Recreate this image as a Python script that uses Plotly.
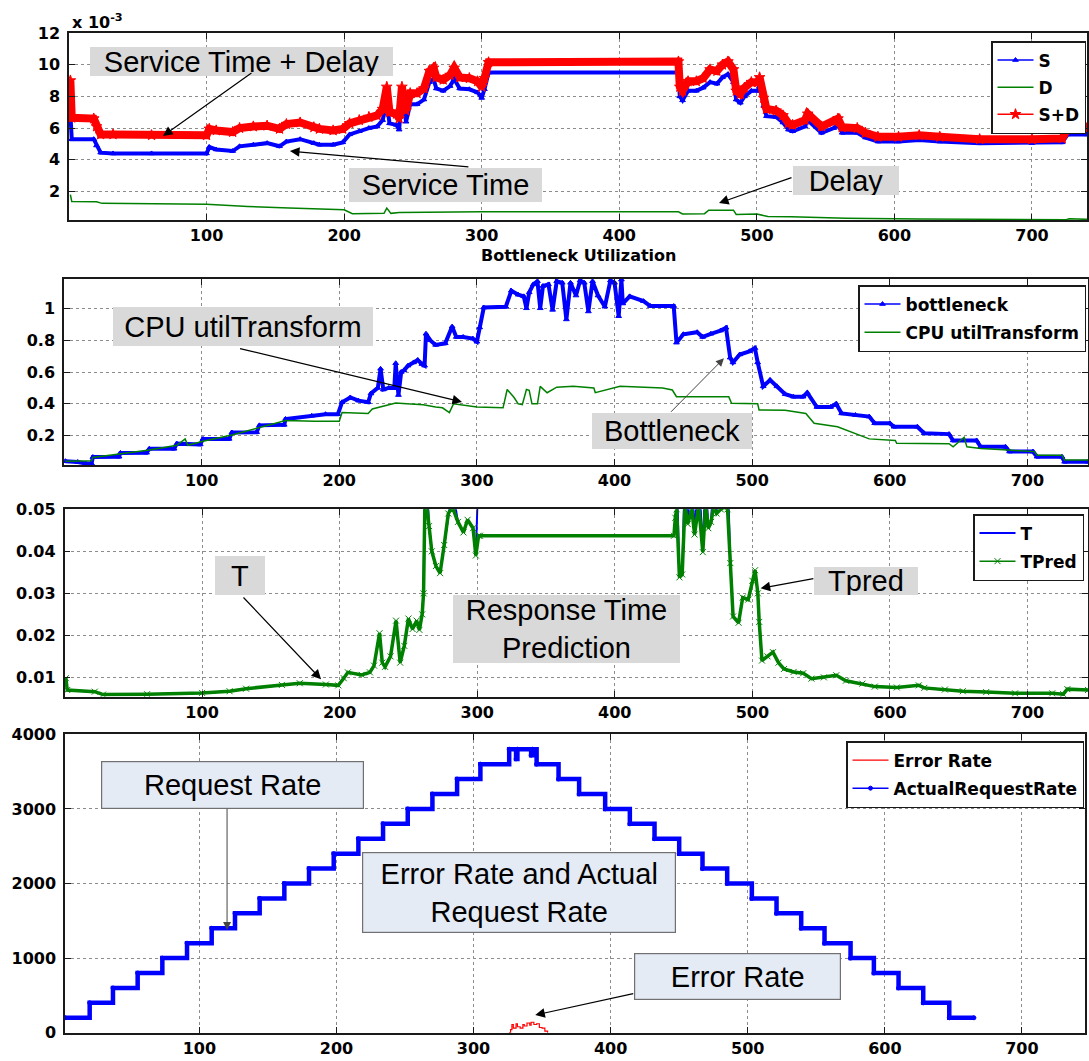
import plotly.graph_objects as go

W, H = 1089, 1061

# ---------------- data ----------------
# Panel 1: service time S, delay D and S+D (units of 1e-3)
S_X = [1, 2, 18, 20, 23, 32, 60, 100, 102, 107,
       119, 124, 134, 144, 153, 158, 168, 178, 182, 192,
       199, 204, 211, 218, 224, 228, 231, 233, 238, 240,
       242, 245, 248, 253, 258, 262, 265, 267, 272, 277,
       280, 284, 291, 297, 300, 302, 305, 443, 444, 446,
       450, 456, 461, 466, 471, 475, 479, 483, 485, 488,
       491, 496, 501, 502, 505, 507, 514, 519, 523, 526,
       535, 537, 547, 556, 559, 562, 573, 579, 588, 603,
       618, 633, 662, 700, 722, 726, 740]
S_Y = [6.9, 5.3, 5.3, 4.9, 4.45, 4.4, 4.4, 4.4, 4.8, 4.65,
       4.55, 4.85, 4.95, 5.05, 4.85, 5.15, 5.3, 5.05, 4.95, 4.95,
       5.1, 5.6, 5.8, 6.0, 6.1, 6.5, 7.6, 6.3, 6.2, 5.9,
       8.2, 6.4, 7.5, 7.5, 7.8, 8.9, 9.1, 8.5, 8.35, 8.65,
       9.1, 8.5, 8.45, 8.25, 7.9, 8.45, 9.5, 9.5, 8.0, 7.75,
       8.35, 8.35, 8.55, 8.9, 8.8, 9.2, 9.4, 8.9, 7.8, 7.6,
       8.0, 8.35, 8.35, 8.65, 7.4, 6.75, 6.7, 6.35, 5.9, 5.8,
       6.1, 6.5, 5.7, 6.0, 6.2, 5.7, 5.7, 5.4, 5.15, 5.15,
       5.25, 5.15, 5.05, 5.05, 5.1, 5.6, 5.6]
SD_Y = [9.0, 6.65, 6.6, 6.1, 5.6, 5.6, 5.55, 5.55, 5.95, 5.85,
        5.75, 6.0, 6.1, 6.15, 5.95, 6.25, 6.35, 6.05, 5.95, 5.85,
        5.95, 6.3, 6.5, 6.7, 6.8, 7.2, 8.6, 7.0, 6.9, 6.6,
        8.6, 7.1, 8.2, 8.2, 8.5, 9.6, 9.8, 9.2, 9.05, 9.35,
        9.8, 9.2, 9.15, 8.95, 8.6, 9.15, 10.15, 10.2, 8.6, 8.35,
        8.95, 8.95, 9.15, 9.7, 9.6, 10.0, 10.2, 9.7, 8.35, 8.15,
        8.55, 8.9, 8.9, 9.2, 7.9, 7.2, 7.1, 6.8, 6.3, 6.2,
        6.5, 6.9, 6.1, 6.4, 6.6, 6.05, 6.0, 5.7, 5.45, 5.45,
        5.55, 5.45, 5.3, 5.3, 5.35, 6.0, 6.0]
D_X = [1, 2, 20, 24, 100, 130, 160, 200, 206, 229, 231, 234, 240, 300, 443, 446,
       462, 465, 483, 485, 500, 505, 508, 525, 540, 565, 618, 660, 725, 727, 740]
D_Y = [1.8, 1.37, 1.35, 1.25, 1.2, 1.05, 0.95, 0.84, 0.6, 0.62, 0.95, 0.62, 0.68, 0.72, 0.72, 0.58,
       0.6, 0.82, 0.82, 0.55, 0.58, 0.5, 0.42, 0.4, 0.37, 0.31, 0.27, 0.25, 0.22, 0.28, 0.24]

# Panel 2: bottleneck utilization and transformed CPU utilization
B_X = [1, 10, 16, 20, 21, 40, 41, 60, 62, 80,
       82, 99, 101, 120, 122, 140, 142, 160, 161, 180,
       190, 199, 202, 208, 214, 221, 223, 228, 230, 232,
       236, 240, 241, 243, 245, 247, 250, 254, 257, 260,
       262, 263, 266, 270, 277, 282, 285, 290, 297, 300,
       302, 305, 321, 325, 330, 334, 336, 338, 341, 344,
       346, 348, 352, 355, 358, 362, 365, 368, 372, 375,
       378, 381, 384, 388, 393, 397, 400, 403, 405, 406,
       411, 421, 426, 443, 445, 450, 460, 464, 470, 477,
       481, 484, 486, 491, 498, 502, 504, 508, 513, 518,
       524, 530, 537, 540, 547, 557, 561, 565, 575, 585,
       589, 600, 603, 620, 625, 643, 646, 663, 666, 684,
       687, 704, 707, 725, 727, 744]
B_Y = [0.040, 0.035, 0.025, 0.025, 0.066, 0.068, 0.092, 0.093, 0.118, 0.118,
       0.150, 0.145, 0.180, 0.180, 0.220, 0.222, 0.265, 0.268, 0.305, 0.325,
       0.335, 0.335, 0.410, 0.440, 0.420, 0.410, 0.465, 0.500, 0.620, 0.490,
       0.500, 0.500, 0.655, 0.455, 0.600, 0.610, 0.640, 0.660, 0.675, 0.650,
       0.640, 0.840, 0.800, 0.770, 0.780, 0.885, 0.820, 0.820, 0.810, 0.790,
       0.880, 1.005, 1.010, 1.110, 1.085, 1.075, 1.000, 1.100, 1.150, 1.170,
       1.000, 1.140, 1.150, 0.990, 1.170, 1.160, 0.930, 1.160, 1.080, 1.175,
       1.160, 0.980, 1.170, 1.080, 1.010, 1.175, 1.160, 0.950, 1.180, 1.030,
       1.075, 1.045, 1.014, 1.014, 0.784, 0.837, 0.850, 0.820, 0.840, 0.860,
       0.878, 0.690, 0.660, 0.710, 0.730, 0.750, 0.660, 0.510, 0.550, 0.510,
       0.460, 0.445, 0.445, 0.470, 0.380, 0.380, 0.400, 0.340, 0.330, 0.320,
       0.278, 0.278, 0.256, 0.256, 0.215, 0.210, 0.170, 0.170, 0.130, 0.130,
       0.100, 0.100, 0.068, 0.068, 0.036, 0.036]
CPU_X = [1, 20, 21, 41, 62, 82, 88, 90, 101, 122,
         142, 161, 182, 200, 202, 221, 224, 241, 249, 261,
         270, 275, 280, 283, 300, 319, 322, 327, 330, 333,
         336, 338, 340, 344, 346, 351, 358, 370, 385, 386,
         404, 435, 442, 445, 483, 485, 504, 505, 524, 539,
         545, 562, 585, 604, 605, 643, 646, 654, 656, 666,
         686, 705, 707, 725, 727, 744]
CPU_Y = [0.040, 0.043, 0.063, 0.085, 0.110, 0.140, 0.180, 0.140, 0.165, 0.205,
         0.250, 0.295, 0.290, 0.290, 0.345, 0.340, 0.368, 0.405, 0.400, 0.395,
         0.380, 0.375, 0.345, 0.400, 0.380, 0.375, 0.490, 0.440, 0.400, 0.395,
         0.490, 0.485, 0.400, 0.400, 0.510, 0.470, 0.505, 0.510, 0.500, 0.470,
         0.510, 0.500, 0.487, 0.445, 0.445, 0.403, 0.400, 0.362, 0.360, 0.340,
         0.278, 0.256, 0.180, 0.170, 0.152, 0.150, 0.130, 0.190, 0.130, 0.120,
         0.110, 0.100, 0.078, 0.078, 0.047, 0.047]

# Panel 3: measured response time T and predicted TPred
TP_X = [1, 2, 22, 28, 60, 100, 120, 132, 158, 171,
        190, 199, 203, 206, 216, 222, 225, 229, 231, 233,
        237, 241, 244, 247, 250, 253, 256, 258, 260, 261,
        262, 263, 265, 267, 270, 273, 276, 279, 282, 286,
        290, 293, 297, 299, 301, 302, 443, 444, 445, 447,
        449, 451, 453, 456, 458, 461, 464, 466, 468, 470,
        472, 474, 477, 480, 482, 484, 486, 490, 493, 497,
        500, 502, 504, 505, 507, 511, 515, 519, 523, 530,
        537, 543, 552, 561, 568, 580, 589, 605, 621, 625,
        640, 653, 670, 691, 718, 726, 729, 744]
TP_Y = [0.0098, 0.0070, 0.0066, 0.0059, 0.0060, 0.0063, 0.0067, 0.0073, 0.0082, 0.0086,
        0.0083, 0.0081, 0.0098, 0.0112, 0.0106, 0.0112, 0.0128, 0.0205, 0.0135, 0.0125,
        0.0150, 0.0235, 0.0135, 0.0175, 0.0240, 0.0215, 0.0235, 0.0213, 0.0250, 0.0300,
        0.0520, 0.0520, 0.0460, 0.0400, 0.0365, 0.0348, 0.0415, 0.0490, 0.0505, 0.0470,
        0.0445, 0.0475, 0.0455, 0.0390, 0.0437, 0.0437, 0.0437, 0.0480, 0.0500, 0.0338,
        0.0345, 0.0510, 0.0465, 0.0500, 0.0440, 0.0510, 0.0398, 0.0510, 0.0455, 0.0470,
        0.0510, 0.0490, 0.0500, 0.0505, 0.0500, 0.0372, 0.0245, 0.0230, 0.0290, 0.0285,
        0.0330, 0.0355, 0.0300, 0.0232, 0.0140, 0.0150, 0.0160, 0.0135, 0.0120, 0.0113,
        0.0110, 0.0097, 0.0100, 0.0105, 0.0092, 0.0085, 0.0078, 0.0076, 0.0081, 0.0075,
        0.0071, 0.0067, 0.0065, 0.0062, 0.0062, 0.0060, 0.0072, 0.0070]
T_Y = [0.0098, 0.0070, 0.0066, 0.0059, 0.0060, 0.0063, 0.0067, 0.0073, 0.0082, 0.0086,
       0.0083, 0.0081, 0.0098, 0.0112, 0.0106, 0.0112, 0.0128, 0.0205, 0.0135, 0.0125,
       0.0150, 0.0235, 0.0135, 0.0175, 0.0240, 0.0215, 0.0235, 0.0213, 0.0250, 0.0300,
       0.0600, 0.0600, 0.0460, 0.0400, 0.0365, 0.0348, 0.0415, 0.0490, 0.0550, 0.0470,
       0.0445, 0.0475, 0.0455, 0.0390, 0.0600, 0.0600, 0.0600, 0.0600, 0.0600, 0.0338,
       0.0345, 0.0600, 0.0465, 0.0600, 0.0440, 0.0600, 0.0398, 0.0600, 0.0455, 0.0470,
       0.0600, 0.0490, 0.0600, 0.0600, 0.0600, 0.0372, 0.0245, 0.0230, 0.0290, 0.0285,
       0.0330, 0.0355, 0.0300, 0.0232, 0.0140, 0.0150, 0.0160, 0.0135, 0.0120, 0.0113,
       0.0110, 0.0097, 0.0100, 0.0105, 0.0092, 0.0085, 0.0078, 0.0076, 0.0081, 0.0075,
       0.0071, 0.0067, 0.0065, 0.0062, 0.0062, 0.0060, 0.0072, 0.0070]

# Panel 4: actual request rate (step changes) and error rate
RR_X = [2, 20, 37, 55, 73, 91, 109, 126, 144, 162, 180, 198, 216, 234, 252, 270, 288, 305,
        326, 331, 332, 342, 343,
        346, 362, 377, 396, 414, 432, 450, 467, 485, 503, 521, 539, 556, 575, 592, 610, 628, 647,
        665]
RR_Y = [200, 400, 600, 800, 1000, 1200, 1400, 1600, 1800, 2000, 2200, 2400, 2600, 2800, 3000, 3200, 3400, 3600,
        3800, 3670, 3800, 3720, 3800,
        3600, 3400, 3200, 3000, 2800, 2600, 2400, 2200, 2000, 1800, 1600, 1400, 1200, 1000, 800, 600, 400, 200,
        200]
# errors only occur around the peak load
ER_X = [326, 327, 328, 329, 331, 332, 334, 336, 337, 339, 341, 342, 344, 346, 348, 350, 352, 354]
ER_Y = [0, 40, 110, 60, 120, 80, 60, 110, 90, 130, 100, 140, 110, 120, 70, 60, 20, 0]

X_TICKS = [100, 200, 300, 400, 500, 600, 700]

# ---------------- styling ----------------
BLUE, RED, GREEN = "#0000ff", "#ff0000", "#008000"
TICK_FONT = dict(family="DejaVu Sans", size=16, color="black", weight="bold")
NOTE_FONT = dict(family="Arial, Liberation Sans, sans-serif", size=29, color="black")
GRAY_BOX = "#d9d9d9"
BLUE_BOX = "#e5ebf5"

# panel boxes in pixels: left, right, top, bottom
BOX = {1: (69, 1087, 33, 220), 2: (64, 1088, 279, 465),
       3: (64.5, 1088, 509.3, 696.7), 4: (65, 1085, 734.3, 1032.7)}
X_RANGE = {1: [0, 740], 2: [0, 744], 3: [0, 744], 4: [2, 746]}
Y_RANGE = {1: [0.2, 12], 2: [0.016, 1.184], 3: [0.0054, 0.05], 4: [0, 4000]}
Y_TICKS = {1: [2, 4, 6, 8, 10, 12], 2: [0.2, 0.4, 0.6, 0.8, 1],
           3: [0.01, 0.02, 0.03, 0.04, 0.05], 4: [0, 1000, 2000, 3000, 4000]}

fig = go.Figure()


def refs(n):
    return ("x", "y") if n == 1 else (f"x{n}", f"y{n}")


def band(n, x, y, color, width, shape="linear"):
    xa, ya = refs(n)
    fig.add_trace(go.Scatter(x=x, y=y, mode="lines", xaxis=xa, yaxis=ya,
                             line=dict(color=color, width=width, shape=shape),
                             showlegend=False, hoverinfo="skip"))


def series(n, x, y, color, name, legend, width=1.5, symbol=None, msize=5, shape="linear"):
    xa, ya = refs(n)
    kw = dict(mode="lines")
    if symbol:
        kw = dict(mode="lines+markers",
                  marker=dict(symbol=symbol, size=msize, color=color,
                              line=dict(color=color, width=1)))
    fig.add_trace(go.Scatter(x=x, y=y, xaxis=xa, yaxis=ya, name=name,
                             line=dict(color=color, width=width, shape=shape),
                             legend=legend, legendgroup=name, **kw))


# panel 1
band(1, S_X, S_Y, BLUE, 4)
series(1, S_X, S_Y, BLUE, "S", "legend", symbol="triangle-up", msize=5)
series(1, D_X, D_Y, GREEN, "D", "legend", width=1.5)
band(1, S_X, SD_Y, RED, 8)
series(1, S_X, SD_Y, RED, "S+D", "legend", symbol="star", msize=8)

# panel 2
band(2, B_X, B_Y, BLUE, 4)
series(2, B_X, B_Y, BLUE, "bottleneck", "legend2", symbol="triangle-up", msize=5)
series(2, CPU_X, CPU_Y, GREEN, "CPU utilTransform", "legend2", width=1.5)

# panel 3
series(3, TP_X, T_Y, BLUE, "T", "legend3", width=2)
band(3, TP_X, TP_Y, GREEN, 3.5)
series(3, TP_X, TP_Y, GREEN, "TPred", "legend3", symbol="x-thin", msize=6)

# panel 4
series(4, ER_X, ER_Y, RED, "Error Rate", "legend4", width=1.2, shape="hv")
band(4, RR_X, RR_Y, BLUE, 4.5, shape="hv")
series(4, RR_X, RR_Y, BLUE, "ActualRequestRate", "legend4", symbol="circle", msize=4, shape="hv")

# axes
layout = dict(width=W, height=H, margin=dict(l=0, r=0, t=0, b=0),
              paper_bgcolor="white", plot_bgcolor="white")
for n in range(1, 5):
    l, r, t, b = BOX[n]
    common = dict(showline=True, linecolor="#1a1a1a", linewidth=1.5, mirror="ticks",
                  ticks="inside", ticklen=6, tickwidth=1.2, tickcolor="#1a1a1a",
                  showgrid=True, gridcolor="#8c8c8c", griddash="dot", gridwidth=1,
                  zeroline=False, tickfont=TICK_FONT, automargin=False,
                  layer="above traces")
    xa, ya = refs(n)
    xk = "xaxis" if n == 1 else f"xaxis{n}"
    yk = "yaxis" if n == 1 else f"yaxis{n}"
    layout[xk] = dict(common, domain=[l / W, r / W], range=X_RANGE[n], tickvals=X_TICKS,
                      anchor=ya, ticklabelstandoff=0)
    layout[yk] = dict(common, domain=[1 - b / H, 1 - t / H], range=Y_RANGE[n],
                      tickvals=Y_TICKS[n], anchor=xa, ticklabelstandoff=4)


def legend_at(right, top, gap):
    return dict(x=right / W, y=1 - top / H, xanchor="right", yanchor="top",
                bgcolor="white", bordercolor="#1a1a1a", borderwidth=1.5,
                font=dict(family="DejaVu Sans", size=17, color="black", weight="bold"),
                traceorder="grouped", tracegroupgap=gap, itemwidth=36)


layout["legend"] = legend_at(1086, 41, 2)
layout["legend2"] = legend_at(1086, 285, 3)
layout["legend3"] = legend_at(1084, 514, 3)
layout["legend4"] = legend_at(1084, 741, 3)


def note(cx, cy, w, h, text, bg, border=None):
    return dict(xref="paper", yref="paper", x=cx / W, y=1 - cy / H,
                xanchor="center", yanchor="middle", text=text, showarrow=False,
                width=w, height=h, bgcolor=bg, borderpad=0,
                bordercolor=border if border else "rgba(0,0,0,0)",
                borderwidth=1.2 if border else 0, font=NOTE_FONT)


def arrow(n, x, y, ax, ay, color="black", width=1.2):
    xa, ya = refs(n)
    return dict(xref=xa, yref=ya, x=x, y=y, ax=ax, ay=ay, text="", showarrow=True,
                arrowhead=2, arrowsize=1.6, arrowwidth=width, arrowcolor=color, standoff=0)


annotations = [
    note(241.5, 61.5, 303, 29, "Service Time + Delay", GRAY_BOX),
    note(445.5, 185, 193, 34, "Service Time", GRAY_BOX),
    note(846, 180.5, 106, 29, "Delay", GRAY_BOX),
    note(243, 326.3, 260, 39, "CPU utilTransform", GRAY_BOX),
    note(672, 431, 160, 36, "Bottleneck", GRAY_BOX),
    note(240, 575.5, 50, 39, "T", GRAY_BOX),
    note(566.7, 629, 227, 68, "Response Time<br>Prediction", GRAY_BOX),
    note(866, 581, 104, 28, "Tpred", GRAY_BOX),
    note(232.4, 784.5, 261, 46, "Request Rate", BLUE_BOX, "#707070"),
    note(518.5, 892.2, 312, 79, "Error Rate and Actual<br>Request Rate", BLUE_BOX, "#707070"),
    note(737, 976.8, 205, 45, "Error Rate", BLUE_BOX, "#707070"),
    arrow(1, 68.3, 5.5, 90, -64),
    arrow(1, 160.6, 4.55, 180, 16),
    arrow(1, 472.5, 1.27, 74, -26),
    arrow(2, 289.2, 0.412, -223.5, -53.7),
    arrow(2, 479.5, 0.686, -54.4, 55, color="#444", width=1),
    arrow(3, 186.5, 0.00954, -79, -83.3),
    arrow(3, 506, 0.0312, 54.3, -10),
    arrow(4, 120.2, 1377, 0, -122.7, color="#444", width=1),
    arrow(4, 345.0, 237, 99.5, -21.7),
    dict(xref="paper", yref="paper", x=70 / W, y=1 - 22 / H, xanchor="left", yanchor="middle",
         text="x 10<sup>-3</sup>", showarrow=False,
         font=dict(family="DejaVu Sans", size=16, color="black", weight="bold")),
    dict(xref="paper", yref="paper", x=578 / W, y=1 - 256 / H, xanchor="center", yanchor="middle",
         text="Bottleneck Utilization", showarrow=False,
         font=dict(family="DejaVu Sans", size=16, color="black", weight="bold")),
]
layout["annotations"] = annotations
fig.update_layout(**layout)

fig.write_html("out.html")
